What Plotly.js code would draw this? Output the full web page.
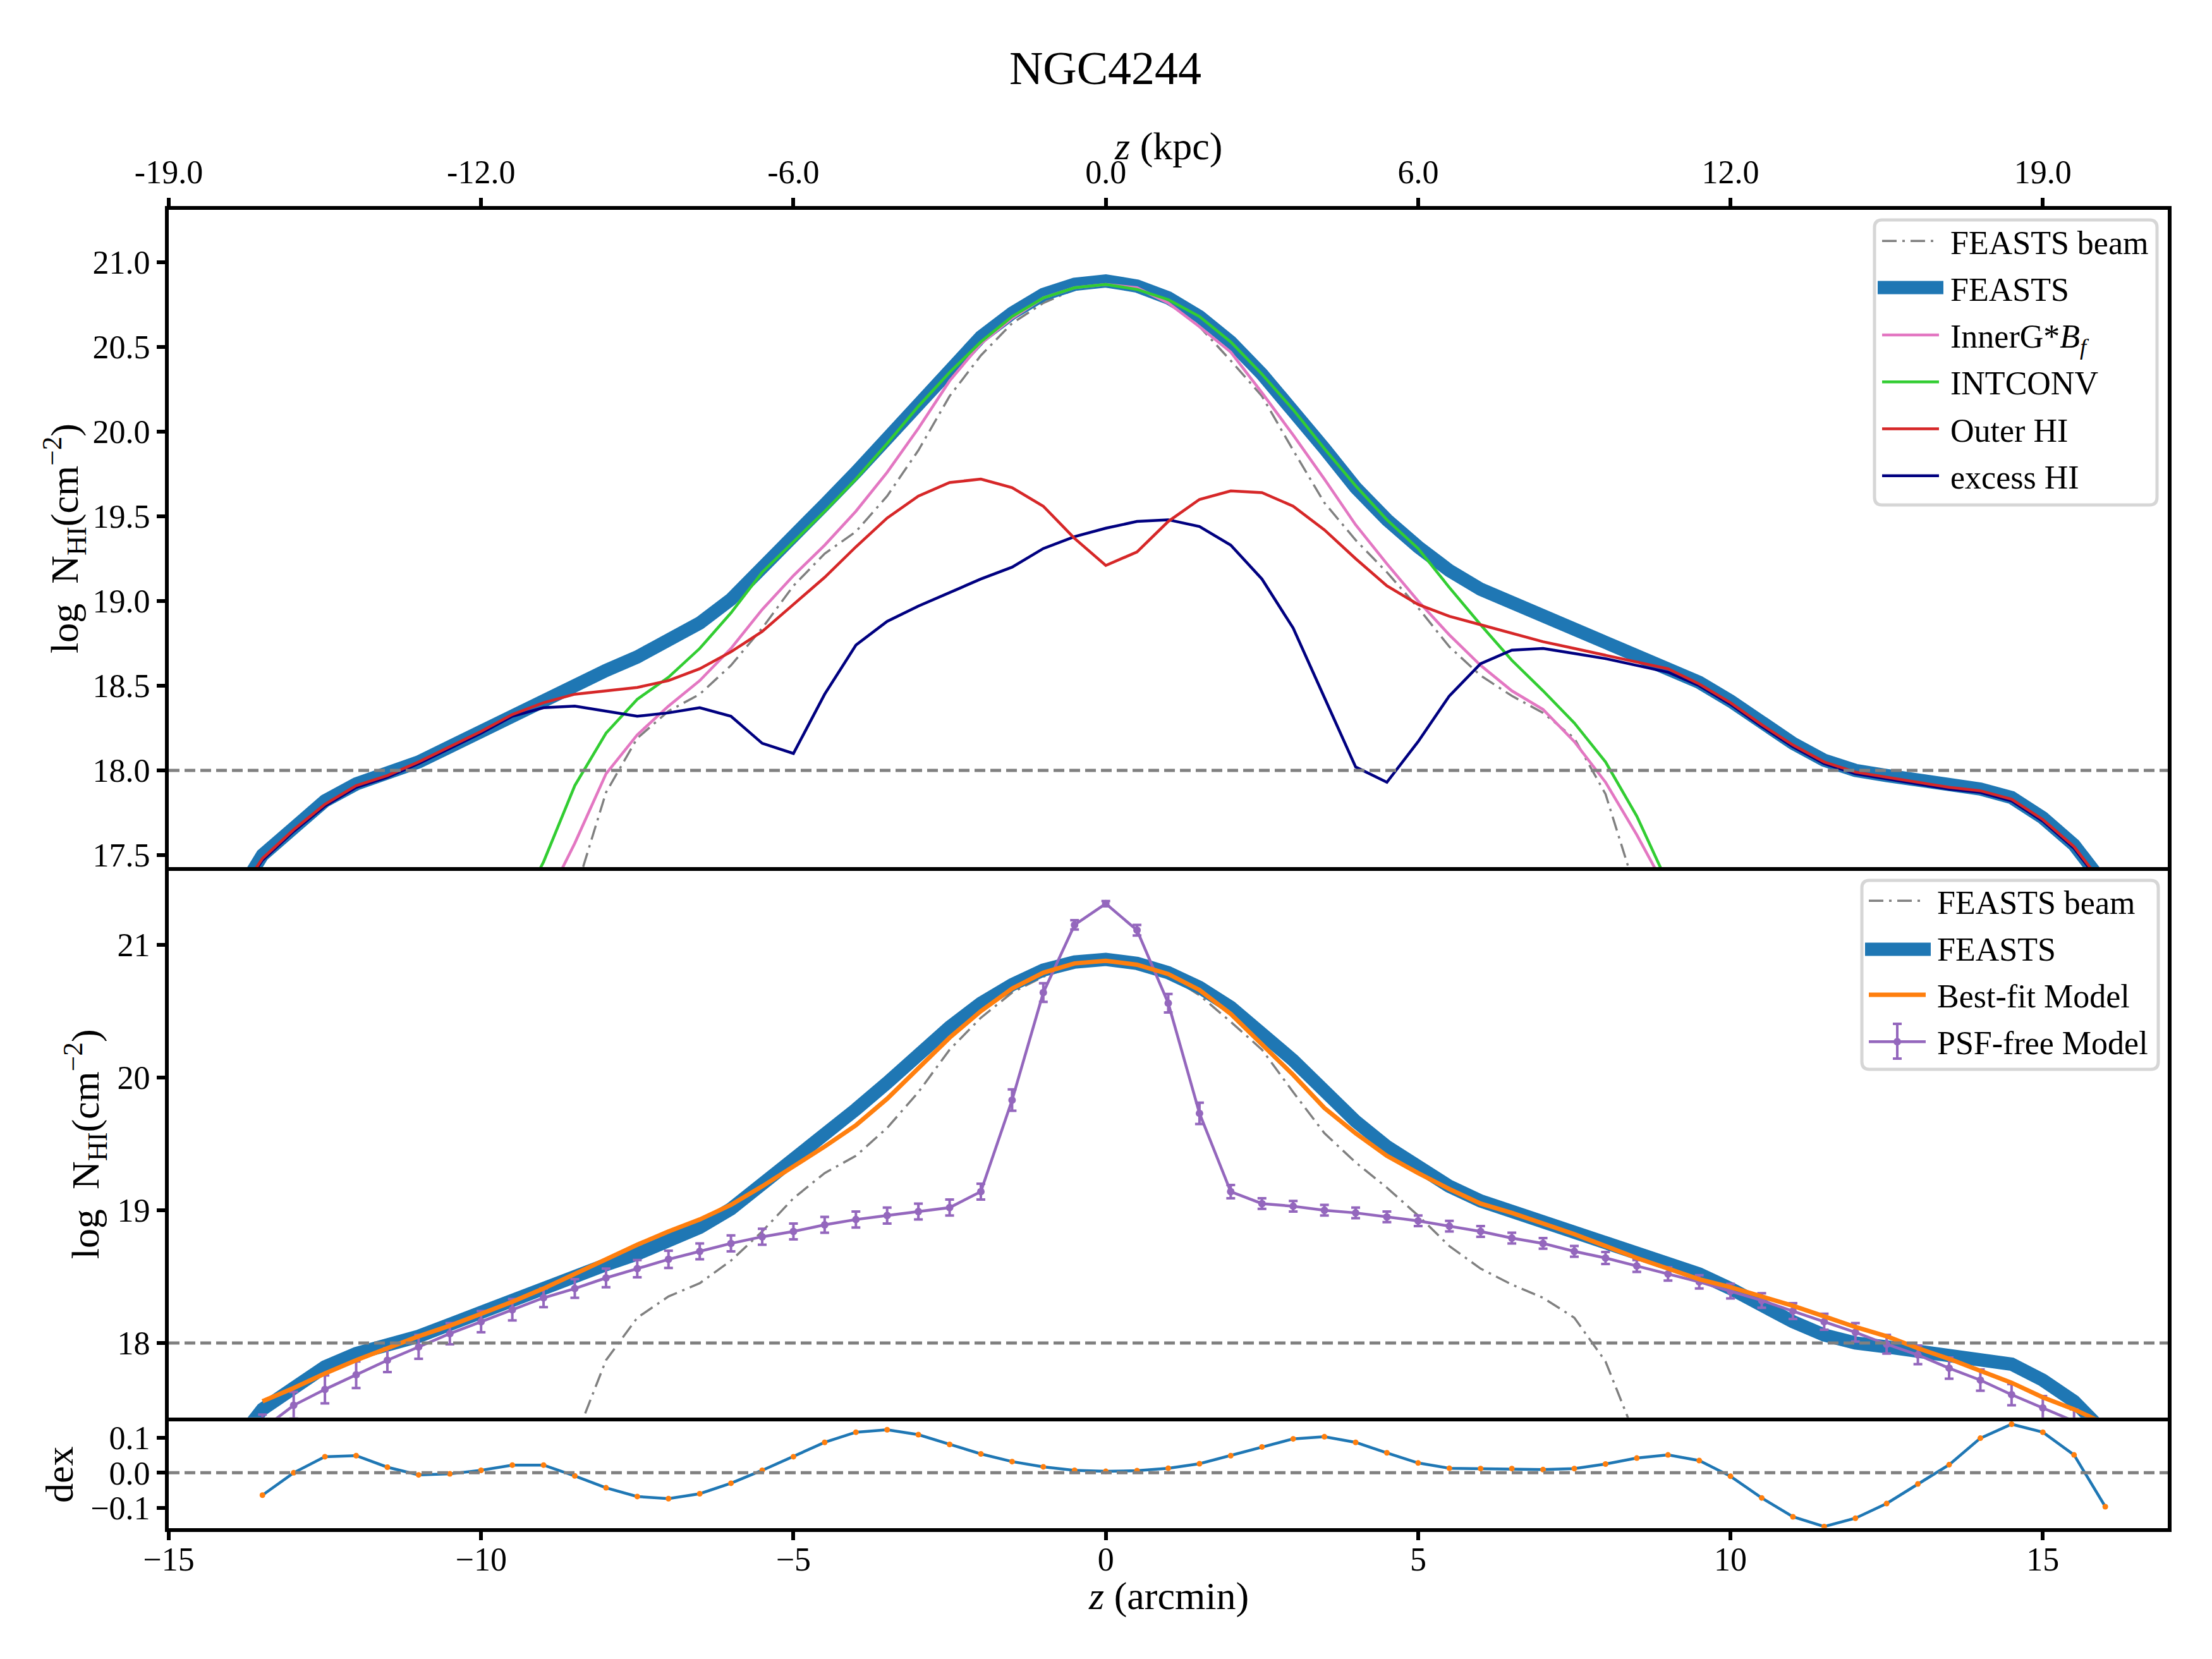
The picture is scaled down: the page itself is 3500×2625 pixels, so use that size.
<!DOCTYPE html>
<html>
<head>
<meta charset="utf-8">
<title>NGC4244</title>
<script src="https://cdn.plot.ly/plotly-3.0.1.min.js"></script>
<style>
  html, body { margin: 0; padding: 0; background: #fff; }
</style>
</head>
<body>
<div id="chart"></div>
<script>
const zFull = [-14, -13.5, -13, -12.5, -12, -11.5, -11, -10.5, -10, -9.5, -9, -8.5, -8, -7.5, -7, -6.5,
  -6, -5.5, -5, -4.5, -4, -3.5, -3, -2.5, -2, -1.5, -1, -0.5, 0, 0.5, 1, 1.5, 2, 2.5, 3, 3.5, 4, 4.5,
  5, 5.5, 6, 6.5, 7, 7.5, 8, 8.5, 9, 9.5, 10, 10.5, 11, 11.5, 12, 12.5, 13, 13.5, 14, 14.5, 15, 15.5, 16];

const zBeam = zFull.slice(11, 46);
const zInner = zFull.slice(10, 47);
const zIntconv = zFull.slice(9, 48);
const zModel = zFull.slice(1);

const feasts = [17.2, 17.5, 17.66, 17.82, 17.92, 17.98, 18.05, 18.14, 18.23, 18.33, 18.43, 18.51, 18.59, 18.67, 18.77, 18.87,
  19.01, 19.19, 19.38, 19.57, 19.76, 19.96, 20.18, 20.38, 20.56, 20.7, 20.81, 20.87, 20.89, 20.86, 20.79, 20.68, 20.53, 20.34, 20.13, 19.9,
  19.67, 19.48, 19.32, 19.18, 19.07, 18.99, 18.91, 18.83, 18.75, 18.68, 18.61, 18.52, 18.41, 18.28, 18.16, 18.06,
  18.0, 17.97, 17.94, 17.91, 17.89, 17.84, 17.72, 17.56, 17.32];

const beam = [17.27, 17.87, 18.19, 18.35, 18.45, 18.62, 18.84, 19.09, 19.28, 19.41, 19.62, 19.89, 20.21, 20.45, 20.64, 20.76, 20.84, 20.86,
  20.84, 20.77, 20.62, 20.42, 20.21, 19.89, 19.58, 19.36, 19.17, 18.96, 18.73, 18.56, 18.44, 18.34, 18.19, 17.86, 17.27];

const innerG = [17.2, 17.57, 17.98, 18.21, 18.38, 18.53, 18.72, 18.95, 19.15, 19.33, 19.53, 19.76, 20.02, 20.3, 20.52, 20.67, 20.79, 20.85, 20.87,
  20.85, 20.76, 20.62, 20.47, 20.23, 19.98, 19.72, 19.45, 19.22, 19.0, 18.8, 18.62, 18.47, 18.36, 18.17, 17.93, 17.62, 17.28];

const intconv = [17.1, 17.46, 17.91, 18.22, 18.42, 18.55, 18.72, 18.93, 19.17, 19.35, 19.53, 19.72, 19.93, 20.15, 20.35, 20.53, 20.68, 20.79, 20.85, 20.87,
  20.84, 20.78, 20.68, 20.53, 20.34, 20.13, 19.9, 19.68, 19.48, 19.31, 19.08, 18.86, 18.65, 18.47, 18.28, 18.05, 17.73, 17.33, 17.0];

const outerHI = [17.2, 17.48, 17.65, 17.8, 17.91, 17.97, 18.05, 18.14, 18.23, 18.33, 18.4, 18.45, 18.47, 18.49, 18.53, 18.6,
  18.7, 18.82, 18.98, 19.14, 19.32, 19.49, 19.62, 19.7, 19.72, 19.67, 19.56, 19.37, 19.21, 19.29, 19.47, 19.6, 19.65, 19.64, 19.56, 19.42,
  19.25, 19.09, 18.98, 18.91, 18.86, 18.81, 18.76, 18.72, 18.68, 18.64, 18.6, 18.51, 18.4, 18.27, 18.15, 18.05,
  17.99, 17.96, 17.93, 17.9, 17.88, 17.83, 17.71, 17.55, 17.31];

const excessHI = [17.2, 17.47, 17.64, 17.79, 17.9, 17.96, 18.04, 18.13, 18.22, 18.32, 18.37, 18.38, 18.35, 18.32, 18.34, 18.37,
  18.32, 18.16, 18.1, 18.45, 18.74, 18.88, 18.97, 19.05, 19.13, 19.2, 19.31, 19.38, 19.43, 19.47, 19.48, 19.44, 19.33, 19.13, 18.84, 18.43,
  18.02, 17.93, 18.17, 18.44, 18.63, 18.71, 18.72, 18.69, 18.66, 18.62, 18.58, 18.5, 18.39, 18.26, 18.14, 18.04,
  17.98, 17.95, 17.92, 17.89, 17.87, 17.82, 17.7, 17.54, 17.3];

const bestFit = [17.56, 17.66, 17.77, 17.87, 17.96, 18.05, 18.13, 18.22, 18.31, 18.41, 18.52, 18.63, 18.74, 18.84, 18.93,
  19.04, 19.18, 19.33, 19.48, 19.64, 19.84, 20.07, 20.3, 20.5, 20.67, 20.79, 20.86, 20.88, 20.85, 20.78, 20.66, 20.48, 20.25, 20.02, 19.77,
  19.58, 19.41, 19.28, 19.16, 19.05, 18.98, 18.9, 18.82, 18.73, 18.64, 18.56, 18.48, 18.42, 18.35, 18.28, 18.2,
  18.12, 18.05, 17.96, 17.88, 17.79, 17.7, 17.59, 17.5, 17.39];

const psfFree = [17.35, 17.53, 17.65, 17.76, 17.87, 17.97, 18.07, 18.16, 18.25, 18.34, 18.41, 18.49, 18.56, 18.63, 18.69,
  18.75, 18.8, 18.84, 18.89, 18.93, 18.96, 18.99, 19.02, 19.14, 19.83, 20.64, 21.15, 21.31, 21.11, 20.56, 19.73, 19.14, 19.05, 19.03, 19.0,
  18.98, 18.95, 18.92, 18.88, 18.84, 18.79, 18.75, 18.69, 18.64, 18.58, 18.52, 18.46, 18.39, 18.32, 18.24, 18.16,
  18.08, 17.99, 17.91, 17.81, 17.72, 17.61, 17.51, 17.41, 17.3];

const psfErr = [0.11, 0.1, 0.105, 0.1, 0.09, 0.09, 0.08, 0.08, 0.08, 0.07, 0.07, 0.07, 0.065, 0.065, 0.06,
  0.06, 0.06, 0.06, 0.06, 0.06, 0.06, 0.06, 0.06, 0.06, 0.08, 0.07, 0.035, 0.02, 0.04, 0.07, 0.08, 0.05, 0.04, 0.04, 0.04,
  0.04, 0.04, 0.04, 0.04, 0.04, 0.04, 0.04, 0.04, 0.045, 0.045, 0.05, 0.05, 0.055, 0.055, 0.06, 0.06,
  0.07, 0.07, 0.07, 0.08, 0.08, 0.08, 0.09, 0.09, 0.1];

const residual = [-0.064, 0, 0.046, 0.049, 0.016, -0.006, -0.003, 0.007, 0.022, 0.022, -0.009, -0.043, -0.068, -0.074, -0.06,
  -0.03, 0.007, 0.046, 0.087, 0.116, 0.123, 0.109, 0.081, 0.054, 0.032, 0.017, 0.007, 0.004, 0.006, 0.013, 0.026, 0.049, 0.074, 0.097, 0.103,
  0.087, 0.057, 0.028, 0.013, 0.012, 0.012, 0.009, 0.012, 0.025, 0.042, 0.051, 0.035, -0.01, -0.072, -0.126, -0.154,
  -0.13, -0.088, -0.032, 0.023, 0.099, 0.139, 0.116, 0.051, -0.097];

const bottomTicks = [-15, -10, -5, 0, 5, 10, 15];
const kpcLabels = ['-19.0', '-12.0', '-6.0', '0.0', '6.0', '12.0', '19.0'];
const topYTicks = [17.5, 18, 18.5, 19, 19.5, 20, 20.5, 21];
const midYTicks = [18, 19, 20, 21];
const dexTicks = [-0.1, 0, 0.1];

const W = 3500;
const H = 2625;
const serif = '"Liberation Serif", "DejaVu Serif", serif';
const yLabel = 'log&nbsp; N<sub>HI</sub>(cm<sup>\u22122</sup>)';
const beamDash = '23px,9px,4px,9px';
const hDash = '17px,8px';
const nb = '\u00A0'; // keeps the gap between legend sample and text

function px(x) { return x / W; }
function py(y) { return 1 - y / H; }

function line(name, x, y, color, width, extra) {
  return Object.assign({
    type: 'scatter', mode: 'lines', name: nb + name, x: x, y: y,
    line: { color: color, width: width, shape: 'linear' },
    legendgroup: name + (extra && extra.legend ? '2' : '')
  }, extra);
}

const traces = [
  // top panel, excess HI goes under Outer HI so legendrank keeps the legend order
  line('FEASTS beam', zBeam, beam, 'gray', 3.5, { xaxis: 'x', yaxis: 'y', legendrank: 1, line: { color: 'gray', width: 3.5, dash: beamDash } }),
  line('FEASTS', zFull, feasts, '#1f77b4', 21, { xaxis: 'x', yaxis: 'y', legendrank: 2 }),
  line('InnerG*<i>B<sub>f</sub></i>', zInner, innerG, '#e377c2', 4.5, { xaxis: 'x', yaxis: 'y', legendrank: 3 }),
  line('INTCONV', zIntconv, intconv, 'limegreen', 4.5, { xaxis: 'x', yaxis: 'y', legendrank: 4 }),
  line('excess HI', zFull, excessHI, 'navy', 4.5, { xaxis: 'x', yaxis: 'y', legendrank: 6 }),
  line('Outer HI', zFull, outerHI, '#d62728', 4.5, { xaxis: 'x', yaxis: 'y', legendrank: 5 }),
  // middle panel
  line('FEASTS beam', zBeam, beam, 'gray', 3.5, { xaxis: 'x2', yaxis: 'y2', legend: 'legend2', legendrank: 1, line: { color: 'gray', width: 3.5, dash: beamDash } }),
  line('FEASTS', zFull, feasts, '#1f77b4', 21, { xaxis: 'x2', yaxis: 'y2', legend: 'legend2', legendrank: 2 }),
  line('PSF-free Model', zModel, psfFree, '#9467bd', 4.5, {
    xaxis: 'x2', yaxis: 'y2', legend: 'legend2', legendrank: 4, mode: 'lines+markers',
    marker: { color: '#9467bd', size: 12 },
    error_y: { type: 'data', array: psfErr, visible: true, color: '#9467bd', thickness: 4, width: 7 }
  }),
  line('Best-fit Model', zModel, bestFit, '#ff7f0e', 7, { xaxis: 'x2', yaxis: 'y2', legend: 'legend2', legendrank: 3 }),
  // residual panel
  line('residual', zModel, residual, '#1f77b4', 4.5, {
    xaxis: 'x3', yaxis: 'y3', mode: 'lines+markers', showlegend: false,
    marker: { color: '#ff7f0e', size: 9 }
  })
];

function xAxis(anchor, extra) {
  return Object.assign({
    domain: [px(267), px(3430)], range: [-15, 17], anchor: anchor,
    showgrid: false, zeroline: false, showline: true, mirror: true,
    linecolor: '#000', linewidth: 6, tickcolor: '#000', tickwidth: 6, ticklen: 13,
    tickvals: bottomTicks, tickfont: { size: 52 }
  }, extra);
}

function yAxis(anchor, top, bottom, range, ticks, format, extra) {
  return Object.assign({
    domain: [py(bottom), py(top)], range: range, anchor: anchor,
    showgrid: false, zeroline: false, showline: true, mirror: true,
    linecolor: '#000', linewidth: 6, ticks: 'outside', tickcolor: '#000', tickwidth: 6, ticklen: 13,
    tickvals: ticks, tickformat: format, tickfont: { size: 52 }
  }, extra);
}

function legendBox(x0, y0, x1, y1) {
  const r = 12;
  const path = 'M' + px(x0 + r) + ',' + py(y0) + ' L' + px(x1 - r) + ',' + py(y0) +
    ' Q' + px(x1) + ',' + py(y0) + ' ' + px(x1) + ',' + py(y0 + r) +
    ' L' + px(x1) + ',' + py(y1 - r) +
    ' Q' + px(x1) + ',' + py(y1) + ' ' + px(x1 - r) + ',' + py(y1) +
    ' L' + px(x0 + r) + ',' + py(y1) +
    ' Q' + px(x0) + ',' + py(y1) + ' ' + px(x0) + ',' + py(y1 - r) +
    ' L' + px(x0) + ',' + py(y0 + r) +
    ' Q' + px(x0) + ',' + py(y0) + ' ' + px(x0 + r) + ',' + py(y0) + ' Z';
  return { type: 'path', xref: 'paper', yref: 'paper', path: path, line: { color: '#d6d6d6', width: 5 }, layer: 'above' };
}

function hLine(xref, yref, value) {
  return {
    type: 'line', xref: xref + ' domain', yref: yref, x0: 0, x1: 1, y0: value, y1: value,
    line: { color: 'gray', width: 5, dash: hDash }, layer: 'above'
  };
}

// the cap bars on the PSF-free legend sample, plotly legends do not draw them
function errorSample(x, y0, y1) {
  const path = 'M' + px(x) + ',' + py(y0) + ' L' + px(x) + ',' + py(y1) +
    ' M' + px(x - 7) + ',' + py(y0) + ' L' + px(x + 7) + ',' + py(y0) +
    ' M' + px(x - 7) + ',' + py(y1) + ' L' + px(x + 7) + ',' + py(y1);
  return { type: 'path', xref: 'paper', yref: 'paper', path: path, line: { color: '#9467bd', width: 4 }, layer: 'above' };
}

// legend lines stop at 10px wide, so the thick FEASTS sample is laid over them
function thickSample(x0, x1, y) {
  return {
    type: 'line', xref: 'paper', yref: 'paper', x0: px(x0), x1: px(x1), y0: py(y), y1: py(y),
    line: { color: '#1f77b4', width: 21 }, layer: 'above'
  };
}

function legendOpts(x, y) {
  return {
    x: px(x), y: py(y), xanchor: 'left', yanchor: 'top',
    bgcolor: 'rgba(0,0,0,0)', borderwidth: 0,
    font: { family: serif, size: 52, color: '#000' },
    itemwidth: 90, tracegroupgap: 3.7, itemclick: false, itemdoubleclick: false
  };
}

function label(text, x, y) {
  return {
    text: text, xref: 'paper', yref: 'paper', x: px(x), y: py(y),
    xanchor: 'center', yanchor: 'middle', showarrow: false,
    font: { family: serif, size: 62, color: '#000' }
  };
}

const layout = {
  width: W, height: H,
  margin: { l: 0, r: 0, t: 0, b: 0 },
  paper_bgcolor: '#fff', plot_bgcolor: '#fff',
  font: { family: serif, size: 50, color: '#000' },
  showlegend: true,
  title: {
    text: 'NGC4244', font: { family: serif, size: 74, color: '#000' },
    x: px(1749), xanchor: 'center', y: py(107), yanchor: 'middle'
  },
  xaxis: xAxis('y', { side: 'top', ticks: 'outside', ticktext: kpcLabels, ticklabelstandoff: 2 }),
  yaxis: yAxis('x', 332, 1372, [17.429, 21.31], topYTicks, '.1f', {
    title: { text: yLabel, font: { size: 62 }, standoff: 5 }
  }),
  xaxis2: xAxis('y2', { ticks: '', showticklabels: false }),
  yaxis2: yAxis('x2', 1378, 2242.7, [17.439, 21.557], midYTicks, 'd', {
    title: { text: yLabel, font: { size: 62 }, standoff: 11 }
  }),
  xaxis3: xAxis('y3', { ticks: 'outside', ticklabelstandoff: -14 }),
  yaxis3: yAxis('x3', 2248.7, 2417.7, [-0.158, 0.1476], dexTicks, '.1f', {
    title: { text: 'dex', font: { size: 62 }, standoff: 10 }
  }),
  annotations: [
    label('<i>z</i> (kpc)', 1849, 232),
    label('<i>z</i> (arcmin)', 1849, 2525)
  ],
  legend: legendOpts(2973, 341),
  legend2: legendOpts(2952, 1385),
  shapes: [
    hLine('x', 'y', 18),
    hLine('x2', 'y2', 18),
    hLine('x3', 'y3', 0),
    legendBox(2966, 348, 3413, 799),
    legendBox(2946, 1393, 3415, 1692),
    thickSample(2971, 3075, 455),
    thickSample(2951, 3055, 1502),
    errorSample(3002, 1620, 1675)
  ]
};

Plotly.newPlot('chart', traces, layout, { displayModeBar: false });
</script>
</body>
</html>
